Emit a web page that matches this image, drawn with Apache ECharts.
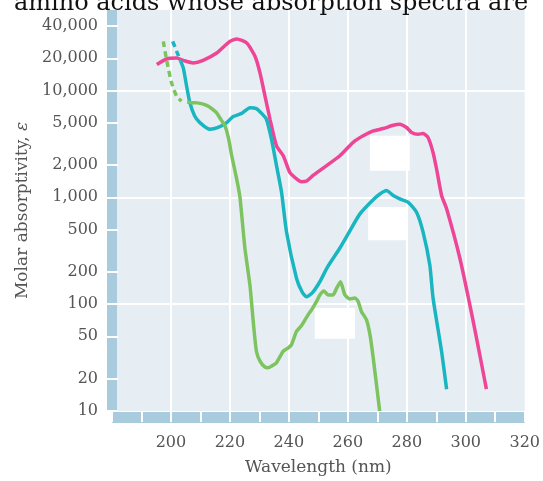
<!DOCTYPE html>
<html>
<head>
<meta charset="utf-8">
<style>
html,body{margin:0;padding:0;background:#fff;}
#c{width:543px;height:481px;}
</style>
<script src="https://cdn.jsdelivr.net/npm/echarts@6/dist/echarts.min.js"></script>
</head>
<body>
<div id="c"></div>
<script>
// ---- data (wavelength nm, molar absorptivity) ----
var trpX = [195.2,198.5,201.9,204.2,207.6,210.9,215.5,220,222.3,225.7,228.5,230.2,231.9,233.6,235.8,238.1,240.3,242.6,244.3,246,248.2,252.8,257.3,261.8,265.2,268.6,272,275.4,277.6,279.9,281.6,283.8,285.5,287.2,288.9,290.1,291.8,293.5,298,301.4,304,307];
var trpY = [17500,19700,20100,19100,18100,19100,22400,28800,30300,27800,20900,14600,8850,5370,3030,2450,1710,1490,1400,1420,1600,1980,2450,3260,3760,4180,4400,4720,4830,4500,4050,3890,3950,3630,2630,1840,1040,780,269,98,43,16];

var tyrDashX = [200.6,202,203.3];
var tyrDashY = [28800,23000,18700];
var tyrX = [203.3,204.2,205.3,206.4,208,209.8,213.2,216,218.9,221.1,224,226.8,229,231,232.4,234.1,235.8,237.5,239.2,242.6,244.5,246,248,250.5,253,257.3,260,264.1,268.6,271,273.1,275.4,277.6,280.4,283.3,285.5,287.8,288.9,291.8,293.5];
var tyrY = [18700,16200,11000,7700,5800,5000,4330,4500,5000,5700,6100,6900,6760,6000,5370,3500,1980,1120,474,174,130,117,128,162,220,335,450,700,950,1080,1157,1040,968,900,724,474,232,114,36,16];

var pheDashX = [197.4,198.5,200.2,201.9,203.6];
var pheDashY = [28800,19400,11800,8850,7940];
var pheX = [205.5,207,209,212.1,214.3,215.5,217,218.3,219.5,220.6,222.3,223.4,225.1,226.8,227.9,229,230.2,231.9,233,234.7,235.8,238.1,239.8,240.9,242.6,244.3,246.5,247.7,249.4,250.5,251.9,253.3,255,256.2,257.5,259,260.7,262.4,263.5,264.6,266.3,267.5,268.6,270.8];
var pheY = [7800,7680,7650,7240,6600,6170,5300,4680,3600,2450,1480,1000,331,150,69,36,29.3,25.7,25.4,26.9,28.3,36.3,39,41.8,55.7,63,79.4,88.5,106,122,133,122,122,141,162,122,112,114,106,85.5,71.5,51.8,31.5,10];

// white patches in the original (nm range, absorptivity range)
var patchX1 = [267.5,266.9,248.8];
var patchX2 = [281,279.9,262.4];
var patchY1 = [3760,811,92];
var patchY2 = [1775,396,47.5];

var xTicks = [180,200,220,240,260,280,300,320];
var yTickLabels = [10,20,50,100,200,500,1000,2000,5000,10000,20000,40000];

function pairs(xs, ys){ return xs.map(function(x,i){ return [x, ys[i]]; }); }

var patches = patchX1.map(function(x1,i){
  return [{coord:[x1, patchY1[i]]},{coord:[patchX2[i], patchY2[i]]}];
});

var FONT = 'DejaVu Serif';
var STRIP = '#a8cbde';
var BG = '#e7eef3';
var PINK = '#ee4596', CYAN = '#19b5c0', GREEN = '#7dc35f';
var YMAX = 56600;
var SM = 0.2;

var chart = echarts.init(document.getElementById('c'));
chart.setOption({
  animation: false,
  title: {
    text: 'amino acids whose absorption spectra are',
    left: 9, top: -13,
    textStyle: {fontFamily: FONT, fontSize: 24, fontWeight: 'normal', color: '#111'}
  },
  grid: {left: 112, right: 18, top: 10, bottom: 67.5, show: true, backgroundColor: BG, borderWidth: 0},
  xAxis: [
    {
      type: 'value', min: xTicks[0], max: xTicks[xTicks.length-1], interval: 20, z: 3,
      axisLine: {show: false},
      axisTick: {show: true, inside: false, length: 11, lineStyle: {color: '#fff', width: 2}},
      minorTick: {show: true, splitNumber: 2, length: 11, lineStyle: {color: '#fff', width: 2}},
      splitLine: {show: true, showMinLine: false, showMaxLine: false, lineStyle: {color: '#fff', width: 2}},
      axisLabel: {showMinLabel: false, margin: 24, fontFamily: FONT, fontSize: 16, color: '#555'},
      name: 'Wavelength (nm)', nameLocation: 'middle', nameGap: 48,
      nameTextStyle: {fontFamily: FONT, fontSize: 17, color: '#555'}
    },
    {
      type: 'value', min: xTicks[0], max: xTicks[xTicks.length-1], position: 'bottom', offset: 6, z: 1,
      axisLine: {show: true, lineStyle: {color: STRIP, width: 11, cap: 'butt'}},
      axisTick: {show: false}, axisLabel: {show: false}, splitLine: {show: false}
    }
  ],
  yAxis: [
    {
      type: 'log', min: 10, max: YMAX, position: 'left', offset: 6, z: 3,
      axisLine: {show: false},
      axisTick: {show: true, inside: true, length: 12, customValues: yTickLabels, lineStyle: {color: '#fff', width: 2}},
      axisLabel: {customValues: yTickLabels, margin: 8, fontFamily: FONT, fontSize: 16, color: '#555',
        formatter: function(v){ return Math.round(v).toLocaleString('en-US'); }},
      splitLine: {show: false},
      name: 'Molar absorptivity, {i|ε}', nameLocation: 'middle', nameGap: 73,
      nameTextStyle: {fontFamily: FONT, fontSize: 17, color: '#555',
        rich: {i: {fontFamily: FONT, fontSize: 17, fontStyle: 'italic', color: '#555'}}}
    },
    {
      type: 'log', min: 10, max: YMAX, position: 'left', offset: 0, z: 1,
      axisLine: {show: true, lineStyle: {color: STRIP, width: 10, cap: 'butt'}},
      axisTick: {show: false}, axisLabel: {show: false},
      splitLine: {show: true, showMinLine: false, showMaxLine: false, lineStyle: {color: '#fff', width: 2}}
    }
  ],
  series: [
    {type: 'line', z: 5, data: pairs(trpX, trpY), smooth: SM, showSymbol: false,
      lineStyle: {color: PINK, width: 3.5},
      markArea: {silent: true, itemStyle: {color: '#ffffff', opacity: 1}, data: patches}},
    {type: 'line', z: 5, data: pairs(tyrDashX, tyrDashY), smooth: SM, showSymbol: false,
      lineStyle: {color: CYAN, width: 3.5, type: [6,4]}},
    {type: 'line', z: 5, data: pairs(tyrX, tyrY), smooth: SM, showSymbol: false,
      lineStyle: {color: CYAN, width: 3.5}},
    {type: 'line', z: 5, data: pairs(pheDashX, pheDashY), smooth: SM, showSymbol: false,
      lineStyle: {color: GREEN, width: 3.5, type: [6,4]}},
    {type: 'line', z: 5, data: pairs(pheX, pheY), smooth: SM, showSymbol: false,
      lineStyle: {color: GREEN, width: 3.5}}
  ]
});
</script>
</body>
</html>
